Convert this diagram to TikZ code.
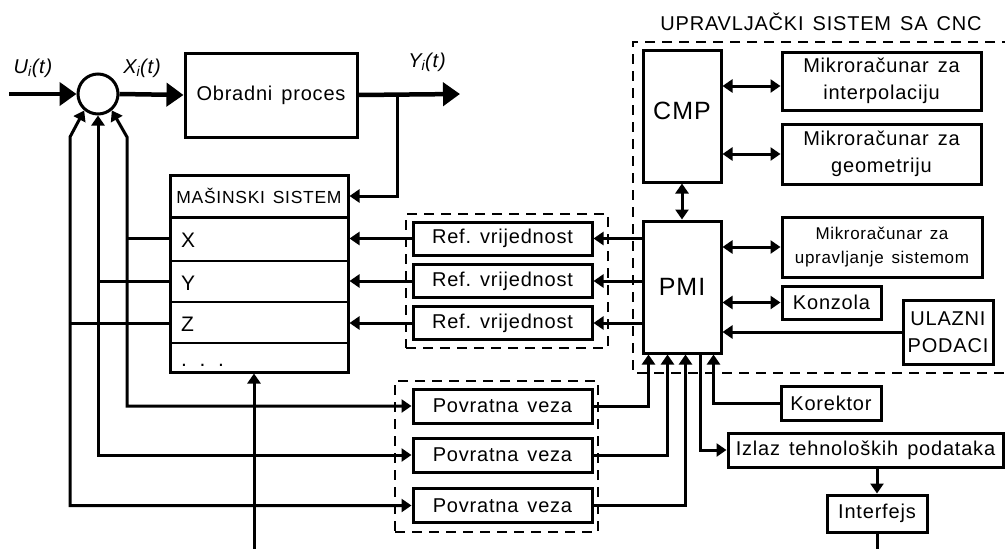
\documentclass[tikz,border=0pt]{standalone}
\usepackage{fontspec}
\setmainfont{Liberation Sans}[LetterSpace=4.0]
\usetikzlibrary{arrows.meta}
\newcommand{\wsp}{\hspace{0.45em}}
\tikzset{
  box/.style={draw, line width=3pt, inner sep=0pt, align=center, font=\fontsize{20}{27}\selectfont},
  grp/.style={draw, line width=2.8pt, dash pattern=on 10pt off 7pt, inner sep=0pt},
  conn/.style={line width=3pt},
  arr/.style={conn, -{Triangle[length=10pt,width=13pt]}},
  darr/.style={conn, {Triangle[length=10pt,width=13pt]}-{Triangle[length=10pt,width=13pt]}},
  big/.style={line width=4.5pt, -{Triangle[length=17pt,width=23pt]}},
  sig/.style={font=\fontsize{20}{22}\selectfont\itshape, inner sep=0pt},
  rowlab/.style={font=\fontsize{21}{24}\selectfont, inner sep=0pt, anchor=west},
}
\begin{document}
\begin{tikzpicture}[x=1pt,y=-1pt,line join=miter]
\useasboundingbox (0,0) rectangle (1005,549);
% --- nodes
\node[circle, draw, line width=3pt, minimum size=40pt, inner sep=0pt] (sum) at (98,94) {};
\node[box, minimum width=172pt, minimum height=84pt] (obr) at (271,95) {Obradni\wsp proces};
\node[sig] (lu) at (33,68) {U\textsubscript{i}(t)};
\node[sig] (lx) at (142,68) {X\textsubscript{i}(t)};
\node[sig] (ly) at (427,62) {Y\textsubscript{i}(t)};

\draw[line width=3pt] (170,217) -- (348,217);
\draw[line width=1.8pt] (170,261) -- (348,261);
\draw[line width=1.8pt] (170,302) -- (348,302);
\draw[line width=1.8pt] (170,343) -- (348,343);
\node[box, minimum width=178pt, minimum height=197pt] (mas) at (259,273.5) {};
\node[font=\fontsize{17.5}{20}\selectfont, inner sep=0pt] (mast) at (259,196) {MAŠINSKI\wsp SISTEM};
\node[rowlab] (rx) at (181,240) {X};
\node[rowlab] (ry) at (181,283) {Y};
\node[rowlab] (rz) at (181,324) {Z};
\node[rowlab, anchor=base west] (rd) at (181,366) {.\hspace{0.6em}.\hspace{0.6em}.};

\node[grp, minimum width=202pt, minimum height=134pt] (refg) at (507,281) {};
\node[box, minimum width=179pt, minimum height=33pt] (ref1) at (502.5,238.5) {Ref.\wsp vrijednost};
\node[box, minimum width=179pt, minimum height=33pt] (ref2) at (502.5,281) {Ref.\wsp vrijednost};
\node[box, minimum width=179pt, minimum height=33pt] (ref3) at (502.5,323) {Ref.\wsp vrijednost};

\node[grp, minimum width=203pt, minimum height=151pt] (povg) at (496.5,456.5) {};
\node[box, minimum width=179pt, minimum height=34pt] (pov1) at (502.5,406) {Povratna\wsp veza};
\node[box, minimum width=179pt, minimum height=34pt] (pov2) at (502.5,455) {Povratna\wsp veza};
\node[box, minimum width=179pt, minimum height=34pt] (pov3) at (502.5,505.5) {Povratna\wsp veza};

\node[font=\fontsize{20}{22}\selectfont, inner sep=0pt] (title) at (821,22) {UPRAVLJAČKI\wsp SISTEM\wsp SA\wsp CNC};
\draw[grp] (1012,42) -| (633,373) -- (1012,373);

\node[box, font=\fontsize{25}{30}\selectfont, minimum width=78pt, minimum height=132pt] (cmp) at (682,116) {\raisebox{10pt}{CMP}};
\node[box, font=\fontsize{25}{30}\selectfont, minimum width=78pt, minimum height=132pt] (pmi) at (682,287) {PMI};
\node[box, minimum width=199pt, minimum height=58pt] (m1) at (881.5,81) {Mikroračunar\wsp za\\interpolaciju};
\node[box, minimum width=199pt, minimum height=60pt] (m2) at (881.5,154) {Mikroračunar\wsp za\\geometriju};
\node[box, font=\fontsize{17}{24}\selectfont, minimum width=200pt, minimum height=60pt] (m3) at (882,247) {Mikroračunar\wsp za\\upravljanje\wsp sistemom};
\node[box, minimum width=99pt, minimum height=33pt] (kon) at (831.5,302.5) {Konzola};
\node[box, minimum width=90pt, minimum height=64pt] (ul) at (948,332) {ULAZNI\\PODACI};
\node[box, minimum width=100pt, minimum height=34pt] (kor) at (831,403) {Korektor};
\node[box, minimum width=275pt, minimum height=34pt] (izl) at (865.5,450) {Izlaz\wsp tehnoloških\wsp podataka};
\node[box, minimum width=100pt, minimum height=37pt] (int) at (877,513.5) {Interfejs};

% --- connectors
\coordinate (uin) at (9,94);
\coordinate (yout) at (460,94);
\coordinate (ybr) at (397,94);
\coordinate (minp) at (254,549);
\coordinate (iout) at (877,549);
\draw[big] (uin) -- (sum.west);
\draw[big] (sum.east) -- (obr.west);
\draw[big] (obr.east) -- (yout);
\draw[arr] (ybr) |- (mas.east |- mast);

\draw[darr] (sum.-50) -- (127,137) |- (pov1.west);
\draw[darr] (sum.south) |- (pov2.west);
\draw[darr] (sum.230) -- (70,137) |- (pov3.west);
\draw[conn] (mas.west |- ref1) -- ++(-43,0);
\draw[conn] (mas.west |- ref2) -- ++(-71,0);
\draw[conn] (mas.west |- ref3) -- ++(-100,0);
\draw[arr] (minp) -- (minp |- mas.south);

\draw[arr] (pmi.west |- ref1) -- (ref1.east);
\draw[arr] (pmi.west |- ref2) -- (ref2.east);
\draw[arr] (pmi.west |- ref3) -- (ref3.east);
\draw[arr] (ref1.west) -- (mas.east |- ref1);
\draw[arr] (ref2.west) -- (mas.east |- ref2);
\draw[arr] (ref3.west) -- (mas.east |- ref3);

\draw[arr] (pov1.east) -| ([xshift=7pt]pmi.south west);
\draw[arr] (pov2.east) -| ([xshift=26pt]pmi.south west);
\draw[arr] (pov3.east) -| ([xshift=44pt]pmi.south west);
\draw[arr] ([xshift=59pt]pmi.south west) |- (izl.west);
\draw[arr] (kor.west) -| ([xshift=72pt]pmi.south west);

\draw[darr] (cmp.east |- 0,86) -- (m1.west |- 0,86);
\draw[darr] (cmp.east |- m2) -- (m2.west);
\draw[darr] (cmp.south) -- (pmi.north);
\draw[darr] (pmi.east |- m3) -- (m3.west);
\draw[darr] (pmi.east |- kon) -- (kon.west);
\draw[arr] (ul.west) -- (pmi.east |- ul);
\draw[arr] (izl.south -| int) -- (int.north);
\draw[conn] (int.south) -- (iout);
\end{tikzpicture}
\end{document}
